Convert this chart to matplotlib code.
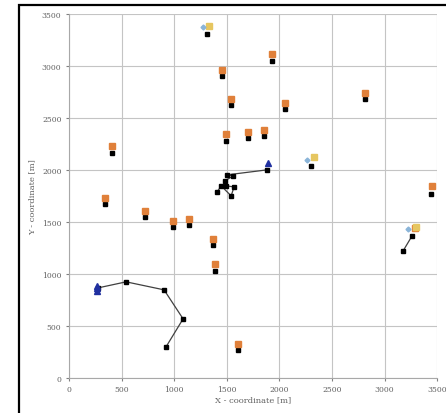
import matplotlib.pyplot as plt
from matplotlib.patches import Rectangle

# static nodes: true position (black) and estimate (orange)
true_x = [1312, 1930, 1455, 1541, 2054, 2815, 409, 1493, 1702, 1855, 2301, 3443,
          342, 723, 989, 1141, 1369, 1388, 1607]
true_y = [3308, 3048, 2904, 2625, 2586, 2683, 2163, 2279, 2308, 2327, 2038, 1769,
          1673, 1548, 1452, 1471, 1279, 1029, 269]

est_x = [1931, 1455, 1541, 2054, 2815, 409, 1493, 1702, 1855, 3452,
         342, 723, 989, 1141, 1369, 1388, 1607, 3290]
est_y = [3115, 2961, 2683, 2644, 2740, 2231, 2346, 2365, 2385, 1846,
         1731, 1606, 1510, 1529, 1337, 1096, 327, 1442]

yellow_x = [1331, 2330, 3300]
yellow_y = [3385, 2125, 1455]

lblue_x = [1274, 2263, 3224]
lblue_y = [3375, 2096, 1433]

# mobile node tracks
track_a_x = [1408, 1446, 1541, 1569, 1493, 1484, 1560, 1503, 1883]
track_a_y = [1788, 1846, 1750, 1836, 1846, 1894, 1942, 1952, 2000]
track_b_x = [276, 542, 903, 1084, 922]
track_b_y = [865, 923, 846, 567, 298]
track_c_x = [3177, 3262]
track_c_y = [1221, 1365]

anchor_x = [1893, 265, 265, 265]
anchor_y = [2067, 835, 860, 885]

ticks = [0, 500, 1000, 1500, 2000, 2500, 3000, 3500]

plt.rcParams['font.family'] = ['DejaVu Serif']
fig = plt.figure(figsize=(4.46, 4.14), dpi=100)
ax = fig.add_axes([0.155, 0.085, 0.825, 0.879])

for tx, ty in [(track_a_x, track_a_y), (track_b_x, track_b_y), (track_c_x, track_c_y)]:
    ax.plot(tx, ty, color='#404040', lw=0.9, marker='s', ms=3.0,
            mfc='black', mec='black', zorder=3)

ax.plot(true_x, true_y, 's', color='black', ms=3.3, zorder=3)
ax.plot(est_x, est_y, 's', color='#e0803a', ms=4.8, zorder=4)
ax.plot(yellow_x, yellow_y, 's', color='#e6c660', ms=4.3, zorder=4)
ax.plot(lblue_x, lblue_y, 'D', color='#8ab4d8', ms=2.5, zorder=4)
ax.plot(anchor_x, anchor_y, '^', color='#2030a0', ms=4.3, zorder=5)

ax.set_xlim(0, 3500)
ax.set_ylim(0, 3500)
ax.set_xticks(ticks)
ax.set_yticks(ticks)
ax.grid(True, color='#c4c4c4', lw=0.8)
ax.set_axisbelow(True)
for side in ['top', 'right']:
    ax.spines[side].set_visible(False)
for side in ['left', 'bottom']:
    ax.spines[side].set_color('#a8a8a8')
ax.tick_params(labelsize=5.5, colors='#808080', length=2, labelcolor='#606060')
ax.set_xlabel('X - coordinate [m]', fontsize=6, color='#606060', labelpad=1)
ax.set_ylabel('Y - coordinate [m]', fontsize=6, color='#606060', labelpad=4)

fig.patches.append(Rectangle((0.043, -0.1), 1.3, 1.0855, transform=fig.transFigure,
                             fill=False, edgecolor='black', lw=1.6))

fig.savefig('out.png', dpi=100)
